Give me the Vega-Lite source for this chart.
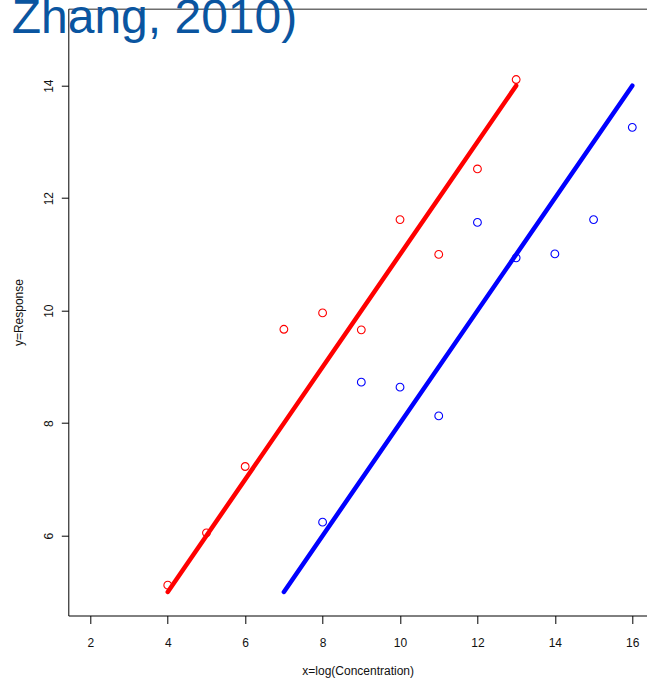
{
  "$schema": "https://vega.github.io/schema/vega-lite/v6.json",
  "autosize": {"type": "none"},
  "width": 578.7,
  "height": 606.8,
  "padding": {"left": 68.3, "top": 8.7, "right": 0, "bottom": 63.5},
  "background": "white",
  "title": {
    "text": "Zhang, 2010)",
    "anchor": "start",
    "frame": "group",
    "orient": "top",
    "offset": -72,
    "dx": -56.6,
    "baseline": "alphabetic",
    "fontSize": 48,
    "font": "Liberation Sans",
    "fontWeight": "normal",
    "color": "#0A55A0"
  },
  "config": {
    "view": {"stroke": null},
    "font": "Liberation Sans",
    "axis": {
      "grid": false,
      "labelFont": "Liberation Sans",
      "labelFontSize": 12,
      "labelColor": "#111111",
      "titleFont": "Liberation Sans",
      "titleFontSize": 12,
      "titleFontWeight": "normal",
      "titleColor": "#111111",
      "domainColor": "#000000",
      "tickColor": "#000000",
      "domainWidth": 1,
      "tickWidth": 1
    }
  },
  "datasets": {
    "points": [
      {"x": 4, "y": 5.12, "group": "red"},
      {"x": 5, "y": 6.05, "group": "red"},
      {"x": 6, "y": 7.23, "group": "red"},
      {"x": 7, "y": 9.67, "group": "red"},
      {"x": 8, "y": 9.96, "group": "red"},
      {"x": 9, "y": 9.66, "group": "red"},
      {"x": 10, "y": 11.62, "group": "red"},
      {"x": 11, "y": 11.0, "group": "red"},
      {"x": 12, "y": 12.52, "group": "red"},
      {"x": 13, "y": 14.11, "group": "red"},
      {"x": 8, "y": 6.24, "group": "blue"},
      {"x": 9, "y": 8.73, "group": "blue"},
      {"x": 10, "y": 8.64, "group": "blue"},
      {"x": 11, "y": 8.13, "group": "blue"},
      {"x": 12, "y": 11.57, "group": "blue"},
      {"x": 13, "y": 10.94, "group": "blue"},
      {"x": 14, "y": 11.01, "group": "blue"},
      {"x": 15, "y": 11.62, "group": "blue"},
      {"x": 16, "y": 13.26, "group": "blue"}
    ],
    "fits": [
      {"x": 4, "y": 5, "group": "red"},
      {"x": 13, "y": 14, "group": "red"},
      {"x": 7, "y": 5, "group": "blue"},
      {"x": 16, "y": 14, "group": "blue"}
    ]
  },
  "layer": [
    {
      "data": {"name": "fits"},
      "mark": {"type": "line", "strokeWidth": 4.5, "strokeCap": "round"},
      "encoding": {
        "x": {
          "field": "x", "type": "quantitative",
          "scale": {"domain": [1.431, 16.38], "nice": false, "zero": false},
          "axis": {
            "orient": "bottom",
            "values": [2, 4, 6, 8, 10, 12, 14, 16],
            "tickSize": 8,
            "labelPadding": 22.5,
            "labelBaseline": "alphabetic",
            "title": "x=log(Concentration)",
            "titleBaseline": "alphabetic",
            "titlePadding": 26
          }
        },
        "y": {
          "field": "y", "type": "quantitative",
          "scale": {"domain": [4.581, 15.369], "nice": false, "zero": false},
          "axis": {
            "orient": "left",
            "values": [6, 8, 10, 12, 14],
            "tickSize": 7,
            "labelAngle": -90,
            "labelAlign": "center",
            "labelBaseline": "alphabetic",
            "labelPadding": 9,
            "title": "y=Response",
            "titleBaseline": "alphabetic",
            "titlePadding": 20
          }
        },
        "detail": {"field": "group"},
        "color": {
          "field": "group", "type": "nominal",
          "scale": {"domain": ["red", "blue"], "range": ["#FF0000", "#0000FF"]},
          "legend": null
        }
      }
    },
    {
      "data": {"name": "points"},
      "mark": {"type": "point", "shape": "circle", "filled": false, "size": 60, "strokeWidth": 1.1, "opacity": 1},
      "encoding": {
        "x": {"field": "x", "type": "quantitative", "axis": null},
        "y": {"field": "y", "type": "quantitative", "axis": null},
        "color": {
          "field": "group", "type": "nominal",
          "scale": {"domain": ["red", "blue"], "range": ["#FF0000", "#0000FF"]},
          "legend": null
        }
      }
    },
    {
      "data": {"name": "points"},
      "mark": {"type": "point", "opacity": 0},
      "encoding": {
        "x": {
          "field": "x", "type": "quantitative",
          "axis": {"orient": "top", "labels": false, "ticks": false, "title": null, "domainColor": "#6E6E6E", "domainWidth": 1.5}
        },
        "y": {"field": "y", "type": "quantitative", "axis": null}
      }
    }
  ],
  "resolve": {"axis": {"x": "independent", "y": "independent"}}
}
